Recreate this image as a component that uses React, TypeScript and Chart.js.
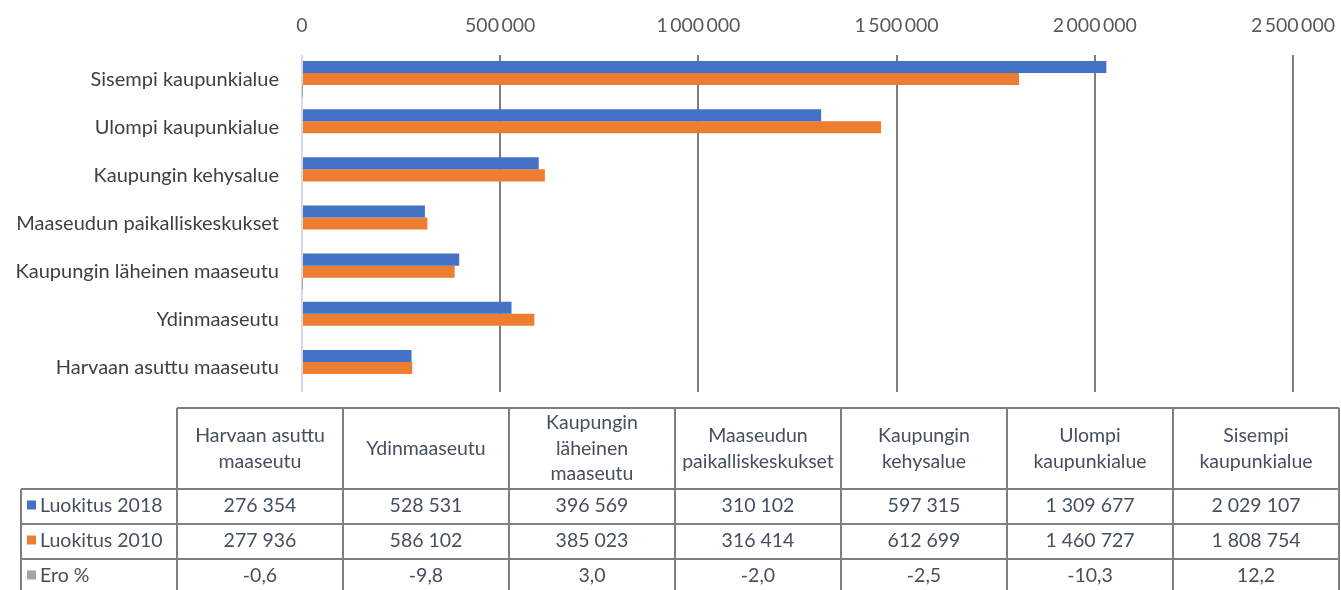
import React, { useEffect, useRef } from "react";
import { Chart, registerables } from "chart.js";

Chart.register(...registerables);

// Data (table order, left to right)
const categories = [
  "Harvaan asuttu maaseutu",
  "Ydinmaaseutu",
  "Kaupungin läheinen maaseutu",
  "Maaseudun paikalliskeskukset",
  "Kaupungin kehysalue",
  "Ulompi kaupunkialue",
  "Sisempi kaupunkialue",
];
const series2018 = [276354, 528531, 396569, 310102, 597315, 1309677, 2029107];
const series2010 = [277936, 586102, 385023, 316414, 612699, 1460727, 1808754];
const eroPercent = [-0.6, -9.8, 3.0, -2.0, -2.5, -10.3, 12.2];
const seriesNames = ["Luokitus 2018", "Luokitus 2010", "Ero %"];
const seriesColors = ["#4472C4", "#ED7D31", "#A5A5A5"];
const xTickMax = 2500000;
const xTickStep = 500000;

const FONT = "Lato, 'Open Sans', sans-serif";

function fmt(n: number, sep = " "): string {
  return String(Math.round(n)).replace(/\B(?=(\d{3})+(?!\d))/g, sep);
}
function fmtPct(n: number): string {
  return n.toFixed(1).replace(".", ",");
}

function wrap(ctx: CanvasRenderingContext2D, text: string, maxW: number): string[] {
  const words = text.split(" ");
  const lines: string[] = [];
  let cur = "";
  for (const w of words) {
    const t = cur ? cur + " " + w : w;
    if (ctx.measureText(t).width > maxW && cur) {
      lines.push(cur);
      cur = w;
    } else cur = t;
  }
  if (cur) lines.push(cur);
  return lines;
}

const tablePlugin = {
  id: "dataTable",
  afterDraw(chart: any) {
    const ctx: CanvasRenderingContext2D = chart.ctx;
    const colX = [177, 343, 509, 675, 841, 1007, 1173, 1339];
    const legendLeft = 21;
    const headTop = 408;
    const rowY = [489, 524, 559, 594];
    ctx.save();
    ctx.strokeStyle = "#7f7f7f";
    ctx.lineWidth = 2;
    ctx.beginPath();
    ctx.moveTo(colX[0], headTop);
    ctx.lineTo(colX[colX.length - 1], headTop);
    for (let i = 0; i < rowY.length; i++) {
      ctx.moveTo(legendLeft, rowY[i]);
      ctx.lineTo(colX[colX.length - 1], rowY[i]);
    }
    for (const x of colX) {
      ctx.moveTo(x, headTop);
      ctx.lineTo(x, rowY[rowY.length - 1]);
    }
    ctx.moveTo(legendLeft, rowY[0]);
    ctx.lineTo(legendLeft, rowY[rowY.length - 1]);
    ctx.stroke();

    ctx.fillStyle = "#464f5e";
    ctx.font = `19.5px ${FONT}`;
    ctx.textAlign = "center";
    ctx.textBaseline = "middle";
    const lh = 25.5;
    categories.forEach((c, i) => {
      const cx = (colX[i] + colX[i + 1]) / 2;
      const lines = wrap(ctx, c, 150);
      const mid = (headTop + rowY[0]) / 2;
      const start = mid - ((lines.length - 1) * lh) / 2;
      lines.forEach((l, j) => ctx.fillText(l, cx, start + j * lh));
    });
    const rows = [series2018.map((v) => fmt(v)), series2010.map((v) => fmt(v)), eroPercent.map(fmtPct)];
    rows.forEach((r, ri) => {
      const cy = (rowY[ri] + rowY[ri + 1]) / 2 - 1;
      ctx.textAlign = "left";
      ctx.fillStyle = seriesColors[ri];
      ctx.fillRect(27, cy - 5, 9, 9);
      ctx.fillStyle = "#464f5e";
      ctx.fillText(seriesNames[ri], 40, cy);
      ctx.textAlign = "center";
      r.forEach((v, i) => {
        const cx = (colX[i] + colX[i + 1]) / 2;
        ctx.fillText(v, cx, cy);
      });
    });
    ctx.restore();
  },
};

export default function App() {
  const ref = useRef<HTMLCanvasElement>(null);
  useEffect(() => {
    if (!ref.current) return;
    const labels = [...categories].reverse();
    const chart = new Chart(ref.current, {
      type: "bar",
      data: {
        labels,
        datasets: [
          {
            label: seriesNames[0],
            data: [...series2018].reverse(),
            backgroundColor: seriesColors[0],
            borderWidth: 0,
          },
          {
            label: seriesNames[1],
            data: [...series2010].reverse(),
            backgroundColor: seriesColors[1],
            borderWidth: 0,
          },
          {
            label: seriesNames[2],
            data: [...eroPercent].reverse(),
            backgroundColor: seriesColors[2],
            borderWidth: 0,
          },
        ],
      },
      options: {
        indexAxis: "y",
        animation: false,
        responsive: false,
        maintainAspectRatio: false,
        datasets: { bar: { categoryPercentage: 0.75, barPercentage: 1.0 } },
        layout: { padding: { left: 0, right: 48, top: 0, bottom: 198 } },
        plugins: { legend: { display: false }, tooltip: { enabled: false } },
        scales: {
          x: {
            position: "top",
            min: 0,
            max: xTickMax,
            ticks: {
              stepSize: xTickStep,
              color: "#595959",
              font: { size: 19.5, family: FONT },
              padding: 18,
              callback: (v: any) => fmt(Number(v), "\u2009"),
            },
            grid: {
              color: (c: any) => (c.index === 0 ? "#d5dbe6" : "#7f7f7f"),
              lineWidth: 2,
              drawTicks: false,
            },
            border: { display: false },
            afterFit: (s: any) => {
              s.height = 55;
              s.paddingLeft = 0;
              s.paddingRight = 0;
            },
          },
          y: {
            ticks: {
              color: "#404040",
              font: { size: 20, family: FONT },
              padding: 15,
            },
            grid: { display: false },
            border: { display: false },
            afterFit: (s: any) => {
              s.width = 302;
              s.paddingTop = 0;
              s.paddingBottom = 0;
            },
          },
        },
      },
      plugins: [tablePlugin],
    } as any);
    return () => chart.destroy();
  }, []);
  return (
    <div style={{ position: "fixed", left: 0, top: 0, width: 1341, height: 590, background: "#fff" }}>
      <canvas ref={ref} width={1341} height={590} style={{ width: 1341, height: 590 }} />
    </div>
  );
}
